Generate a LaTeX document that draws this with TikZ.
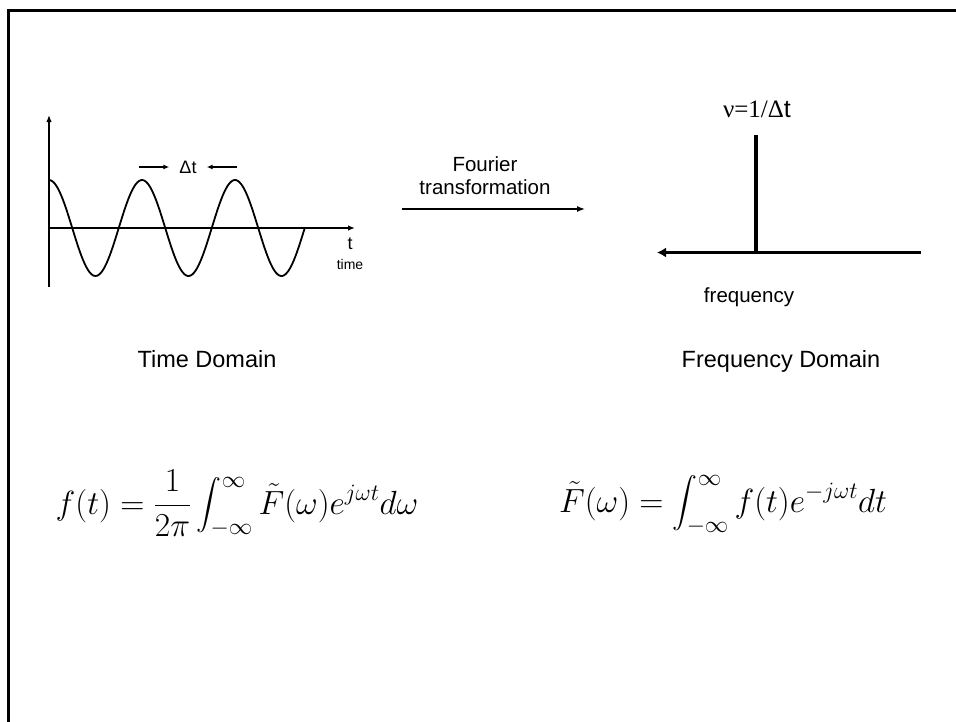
\documentclass[tikz,border=0pt]{standalone}
\usepackage{fix-cm}
\usepackage{exscale}
\usepackage{amsmath}
\usepackage[no-math]{fontspec}
\setmainfont{Liberation Sans}
\newfontfamily\nufont{Liberation Serif}
\usepackage{tikz}
\usetikzlibrary{positioning, arrows.meta}

\begin{document}
\begin{tikzpicture}[
  x=1pt, y=-1pt,
  frame/.style={line width=2.5pt},
  wave/.style={line width=1.8pt, smooth},
  axis/.style={-{Latex[length=7pt, width=5.5pt]}, line width=1.3pt},
  dtarr/.style={-{Latex[length=6pt, width=5pt]}, line width=1.1pt},
  arr/.style={-{Latex[length=8pt, width=6pt]}, line width=1.4pt},
  spec/.style={line width=3.6pt},
  specaxis/.style={-{Latex[length=9pt, width=10pt]}, line width=3.6pt},
  caption/.style={font=\fontsize{23.5}{27}\selectfont, anchor=base},
  small/.style={font=\fontsize{20.5}{23}\selectfont, align=center},
  eqn/.style={font=\fontsize{33.5}{40}\selectfont, anchor=base},
]
\useasboundingbox (0,0) rectangle (956,721);

% Frame
\draw[frame] (8.5,740) |- (980,10.5);

% Time domain
\coordinate (ybot) at (49,287);
\coordinate (ytop) at (49,115);
\coordinate (orig) at (49,228);
\coordinate (tend) at (355,228);
\draw[axis] (ybot) -- (ytop);
\draw[axis] (orig) -- (tend);
\draw[wave, domain=49:305, samples=160] plot (\x, {228 - 48*cos(3.871*(\x-49))});

\node[font=\fontsize{18}{20}\selectfont] (tlbl) at (350,244) {t};
\node[font=\fontsize{14}{16}\selectfont, below=2pt of tlbl] (timelbl) {time};

\node[font=\fontsize{18}{20}\selectfont, inner xsep=10pt] (dt) at (188,167) {Δt};
\coordinate (dtl) at (139,167);
\coordinate (dtr) at (237,167);
\draw[dtarr] (dtl) -- (dt);
\draw[dtarr] (dtr) -- (dt);

% Transformation
\node[small] (ft) at (485,176) {Fourier\\transformation};
\coordinate (fta) at (402,209);
\coordinate (ftb) at (585,209);
\draw[arr] (fta) -- (ftb);

% Frequency domain
\coordinate (fr) at (921,252.5);
\coordinate (fl) at (657,252.5);
\coordinate (sb) at (756,252.5);
\coordinate (st) at (756,135);
\draw[specaxis] (fr) -- (fl);
\draw[spec] (sb) -- (st);
\node[font=\fontsize{25}{28}\selectfont, anchor=base] (nu) at (757,117) {{\nufont ν=1/Δ}t};
\node[small, anchor=base] (freq) at (749,302) {frequency};

% Captions
\node[caption] (tdom) at (207,367) {Time Domain};
\node[caption] (fdom) at (781,367) {Frequency Domain};

% Formulas
\node[eqn] (inv) at (237,514) {$\displaystyle f(t)=\frac{1}{2\pi}\int_{-\infty}^{\infty}\tilde{F}(\omega)e^{j\omega t}d\omega$};
\node[eqn] (fwd) at (723,512) {$\displaystyle \tilde{F}(\omega)=\int_{-\infty}^{\infty}f(t)e^{-j\omega t}dt$};

\end{tikzpicture}
\end{document}
